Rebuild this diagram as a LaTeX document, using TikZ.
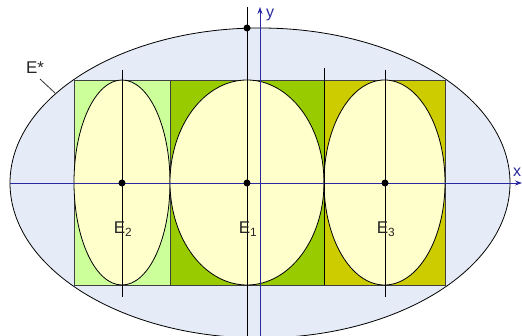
\documentclass[tikz,border=0pt]{standalone}
\usepackage{fontspec}
\setmainfont{Liberation Sans}
\usetikzlibrary{arrows.meta}
\definecolor{bgell}{HTML}{E6ECF7}
\definecolor{lgreen}{HTML}{CCFF99}
\definecolor{mgreen}{HTML}{99CC00}
\definecolor{olive}{HTML}{CCCC00}
\definecolor{cream}{HTML}{FFFFCC}
\definecolor{axblue}{RGB}{40,40,160}
\tikzset{
  rectbox/.style={draw=black!75, line width=0.9pt},
  inell/.style={fill=cream, draw=black, line width=0.8pt},
  axis/.style={draw=axblue, line width=0.8pt, -{Stealth[length=7pt,width=5pt]}},
  vline/.style={draw=black, line width=1.0pt},
  dot/.style={fill=black, circle, inner sep=0pt, minimum size=7pt},
  lbl/.style={font=\fontsize{17}{17}\selectfont, inner sep=0pt, text=black!85},
  axlbl/.style={font=\fontsize{16}{16}\selectfont, inner sep=0pt, text=axblue}
}
\begin{document}
\begin{tikzpicture}[x=1pt,y=-1pt]
\useasboundingbox (0,0) rectangle (522,336);
\clip (0,0) rectangle (522,336);
% big ellipse
\draw[fill=bgell, draw=black, line width=0.8pt] (260,183) ellipse [x radius=250, y radius=155];
% rectangles
\fill[lgreen] (74,80) rectangle (170,285);
\fill[mgreen] (170,80) rectangle (324,285);
\fill[olive] (324,80) rectangle (445,285);
\draw[rectbox] (74,80) rectangle (445,285);
\draw[rectbox] (170,80) -- (170,285);
% inner ellipses
\draw[inell] (122,182.5) ellipse [x radius=48, y radius=102.5];
\draw[inell] (247,182.5) ellipse [x radius=77, y radius=102.5];
\draw[inell] (384.5,182.5) ellipse [x radius=60.5, y radius=102.5];
% named points
\coordinate (c2) at (122,183);
\coordinate (c1) at (247,183);
\coordinate (c3) at (385,183);
\coordinate (top) at (247,28);
\coordinate (x0) at (10,183);
\coordinate (x1) at (522,183);
\coordinate (y0) at (260,340);
\coordinate (y1) at (260,7);
% axes
\draw[axis] (x0) -- (x1);
\draw[axis] (y0) -- (y1);
\node[axlbl, anchor=west] (ylab) at (266,15) {y};
\node[axlbl, anchor=west] (xlab) at (513,172) {x};
% vertical lines
\coordinate (l2a) at (122,70); \coordinate (l2b) at (122,297);
\coordinate (l1a) at (247,7); \coordinate (l1b) at (247,340);
\coordinate (l3a) at (385,70); \coordinate (l3b) at (385,297);
\coordinate (l4a) at (324,68); \coordinate (l4b) at (324,285);
\draw[vline] (l2a) -- (l2b);
\draw[vline] (l1a) -- (l1b);
\draw[vline] (l3a) -- (l3b);
\draw[vline] (l4a) -- (l4b);
% dots
\node[dot] (d2) at (c2) {};
\node[dot] (d1) at (c1) {};
\node[dot] (d3) at (c3) {};
\node[dot] (dt) at (top) {};
% labels
\node[lbl] (e2) at (123,229) {E\textsubscript{2}};
\node[lbl] (e1) at (248,229) {E\textsubscript{1}};
\node[lbl] (e3) at (386,229) {E\textsubscript{3}};
\node[lbl] (es) at (35,68) {E*};
\coordinate (esl) at (55,93);
\draw[black!80, line width=0.8pt] (40,79) -- (esl);
\end{tikzpicture}
\end{document}
